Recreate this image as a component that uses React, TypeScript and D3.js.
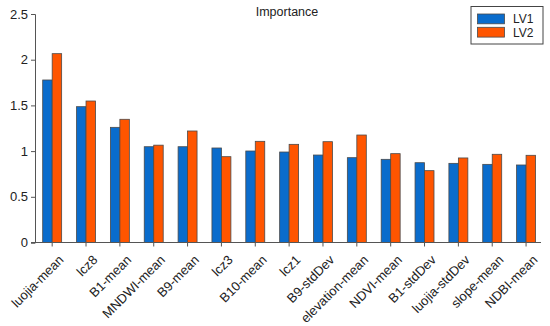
import React, { useEffect, useRef } from "react";
import * as d3 from "d3";

const features = [
  "luojia-mean", "lcz8", "B1-mean", "MNDWI-mean", "B9-mean", "lcz3", "B10-mean",
  "lcz1", "B9-stdDev", "elevation-mean", "NDVI-mean", "B1-stdDev", "luojia-stdDev",
  "slope-mean", "NDBI-mean",
];
const lv1 = [1.778, 1.486, 1.26, 1.048, 1.048, 1.034, 1.001, 0.99, 0.957, 0.928, 0.91, 0.873, 0.866, 0.855, 0.848];
const lv2 = [2.066, 1.548, 1.348, 1.065, 1.22, 0.939, 1.107, 1.074, 1.103, 1.176, 0.972, 0.786, 0.925, 0.965, 0.954];
const seriesNames = ["LV1", "LV2"];
const colors = ["#0a6ccc", "#ff5500"];
const yTicks = [0, 0.5, 1, 1.5, 2, 2.5];

export default function App() {
  const ref = useRef<SVGSVGElement>(null);

  useEffect(() => {
    const svg = d3.select(ref.current);
    svg.selectAll("*").remove();
    const font = "'Liberation Sans', Arial, sans-serif";

    const x = d3.scaleBand<string>().domain(features).range([35.25, 543]).paddingInner(0.44).paddingOuter(0.22);
    const x1 = d3.scaleBand<string>().domain(seriesNames).range([0, x.bandwidth()]);
    const y = d3.scaleLinear().domain([0, 2.5]).range([242.5, 14]);

    // bars
    const data = features.map((f, i) => ({ f, vals: [lv1[i], lv2[i]] }));
    const groups = svg.append("g").selectAll("g").data(data).join("g")
      .attr("transform", d => `translate(${x(d.f)},0)`);
    groups.selectAll("rect")
      .data(d => d.vals.map((v, k) => ({ v, k })))
      .join("rect")
      .attr("x", d => x1(seriesNames[d.k])!)
      .attr("y", d => y(d.v))
      .attr("width", x1.bandwidth())
      .attr("height", d => y(0) - y(d.v))
      .attr("fill", d => colors[d.k])
      .attr("stroke", "#4a4a4a")
      .attr("stroke-width", 0.8);

    // y axis
    const ya = svg.append("g").attr("transform", "translate(35,0)")
      .call(d3.axisLeft(y).tickValues(yTicks).tickFormat(d3.format("~g")).tickSize(4).tickPadding(3));
    ya.select(".domain").attr("stroke", "#555");
    ya.selectAll(".tick line").attr("stroke", "#555");
    ya.selectAll("text").attr("font-size", 13).attr("font-family", font).attr("fill", "#222");

    // x axis
    const xa = svg.append("g").attr("transform", "translate(0,242.5)")
      .call(d3.axisBottom(x).tickSizeInner(4).tickSizeOuter(0));
    xa.select(".domain").attr("d", "M31,0H541").attr("stroke", "#555");
    xa.selectAll(".tick line").attr("stroke", "#555");
    xa.selectAll("text")
      .attr("font-size", 13).attr("font-family", font).attr("fill", "#222")
      .attr("text-anchor", "end")
      .attr("x", 0).attr("y", 0)
      .attr("dy", "0.35em")
      .attr("transform", "translate(9,15) rotate(-45)");

    // title
    svg.append("text").attr("x", 287).attr("y", 16).attr("text-anchor", "middle")
      .attr("font-size", 12.5).attr("font-family", font).attr("fill", "#222").text("Importance");

    // legend
    const lg = svg.append("g");
    lg.append("rect").attr("x", 471).attr("y", 6.5).attr("width", 72).attr("height", 37.5)
      .attr("fill", "white").attr("stroke", "#444").attr("stroke-width", 1);
    seriesNames.forEach((s, k) => {
      lg.append("rect").attr("x", 477.5).attr("y", 14 + k * 13.3).attr("width", 27).attr("height", 9.8)
        .attr("fill", colors[k]).attr("stroke", "#4a4a4a").attr("stroke-width", 0.8);
      lg.append("text").attr("x", 513).attr("y", 23.3 + k * 13.3)
        .attr("font-size", 12).attr("font-family", font).attr("fill", "#222").text(s);
    });
  }, []);

  return (
    <svg ref={ref} width={550} height={326}
      style={{ position: "absolute", left: 0, top: 0, background: "white" }} />
  );
}
